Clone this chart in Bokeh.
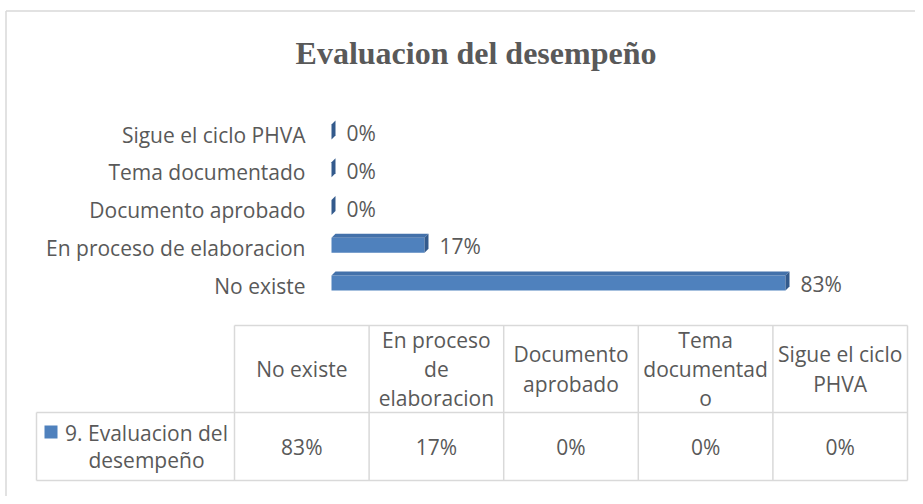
from bokeh.plotting import figure
from bokeh.models import Range1d
from bokeh.core.properties import value
from bokeh.embed import file_html
from bokeh.resources import INLINE

# ---------------- data ----------------
title_text = "Evaluacion del desempeño"
categories = ["No existe", "En proceso de elaboracion", "Documento aprobado",
              "Tema documentado", "Sigue el ciclo PHVA"]
values = [0.83, 0.17, 0.0, 0.0, 0.0]
table_headers = ["No existe", "En proceso\nde\nelaboracion", "Documento\naprobado",
                 "Tema\ndocumentad\no", "Sigue el ciclo\nPHVA"]
series_name = "9. Evaluacion del\ndesempeño"

# ---------------- layout constants (px) ----------------
W, H = 915, 496
X0 = 331                     # px of value 0
SCALE = 547.0                # px per unit (100 %)
ROW0 = 285                   # centre of first category row
ROW = 37.75
DEPTH = 4.0                  # 3-D depth px
BLUE = "#4F81BD"
TOP = "#4371AA"
SIDE = "#335A8C"
GREY = "#595959"
LINE = "#D9D9D9"
FONT = "Open Sans"
FS = "21px"

p = figure(width=W, height=H, output_backend="svg", toolbar_location=None,
           x_range=Range1d(-X0 / SCALE, (W - X0) / SCALE),
           y_range=Range1d(H, 0),
           x_axis_location=None, y_axis_location=None,
           min_border=0, outline_line_color=None)
p.extra_x_ranges = {"px": Range1d(0, W)}
p.grid.visible = False
p.background_fill_color = "white"
p.border_fill_color = "white"

# chart border (top and left edges visible)
p.segment(x0=[5.5, 5.5], x1=[W, 5.5], y0=[10.5, 10.5], y1=[10.5, H],
          line_color=LINE, line_width=1.5, x_range_name="px")

# title
p.text(x=[475.5], y=[52], text=[title_text], x_range_name="px",
       text_font=value("Liberation Serif"), text_font_style="bold",
       text_font_size="32px", text_color=GREY, text_align="center",
       text_baseline="alphabetic")

# ---------------- bars ----------------
d = DEPTH / SCALE
rc = [ROW0 - i * ROW for i in range(len(categories))]
p.quad(left=[0] * len(values), right=values,
       top=[r - 10 for r in rc], bottom=[r + 5 for r in rc],
       fill_color=BLUE, line_color=None)
p.patches(xs=[[0, v, v + d, d] for v in values],
          ys=[[r - 10, r - 10, r - 14, r - 14] for r in rc],
          fill_color=TOP, line_color=None)
p.patches(xs=[[v, v + d, v + d, v] for v in values],
          ys=[[r - 10, r - 14, r + 1, r + 5] for r in rc],
          fill_color=SIDE, line_color=None)

# value labels
p.text(x=[v + d + 11 / SCALE for v in values], y=[r - 1.5 for r in rc],
       text=[f"{round(v * 100)}%" for v in values],
       text_font=value(FONT), text_font_size=FS, text_color=GREY,
       text_align="left", text_baseline="middle")

# category labels
p.text(x=[305] * len(categories), y=rc, text=categories, x_range_name="px",
       text_font=value(FONT), text_font_size=FS, text_color=GREY,
       text_align="right", text_baseline="middle")

# ---------------- data table ----------------
T_LEFT, T_KEY = 36, 234
T_RIGHT = 907
T_TOP, T_MID, T_BOT = 325, 412, 480
n = len(table_headers)
colw = (T_RIGHT - T_KEY) / n
col_edges = [T_KEY + i * colw for i in range(n + 1)]
col_centers = [T_KEY + (i + 0.5) * colw for i in range(n)]

p.segment(x0=[T_KEY, T_LEFT, T_LEFT, T_LEFT] + col_edges,
          x1=[T_RIGHT, T_RIGHT, T_RIGHT, T_LEFT] + col_edges,
          y0=[T_TOP, T_MID, T_BOT, T_MID] + [T_TOP] * len(col_edges),
          y1=[T_TOP, T_MID, T_BOT, T_BOT] + [T_BOT] * len(col_edges),
          line_color=LINE, line_width=1.5, x_range_name="px")

p.text(x=col_centers, y=[(T_TOP + T_MID) / 2] * n, text=table_headers,
       x_range_name="px", text_font=value(FONT), text_font_size=FS,
       text_color=GREY, text_align="center", text_baseline="middle",
       text_line_height=1.05)
p.text(x=col_centers, y=[(T_MID + T_BOT) / 2] * n,
       text=[f"{round(v * 100)}%" for v in values],
       x_range_name="px", text_font=value(FONT), text_font_size=FS,
       text_color=GREY, text_align="center", text_baseline="middle")

# legend key + series name
p.quad(left=[44], right=[57], top=[425], bottom=[438],
       fill_color=BLUE, line_color=None, x_range_name="px")
p.text(x=[146], y=[(T_MID + T_BOT) / 2], text=[series_name],
       x_range_name="px", text_font=value(FONT), text_font_size=FS,
       text_color=GREY, text_align="center", text_baseline="middle",
       text_line_height=0.98)

open("out.html", "w").write(file_html(p, INLINE))
